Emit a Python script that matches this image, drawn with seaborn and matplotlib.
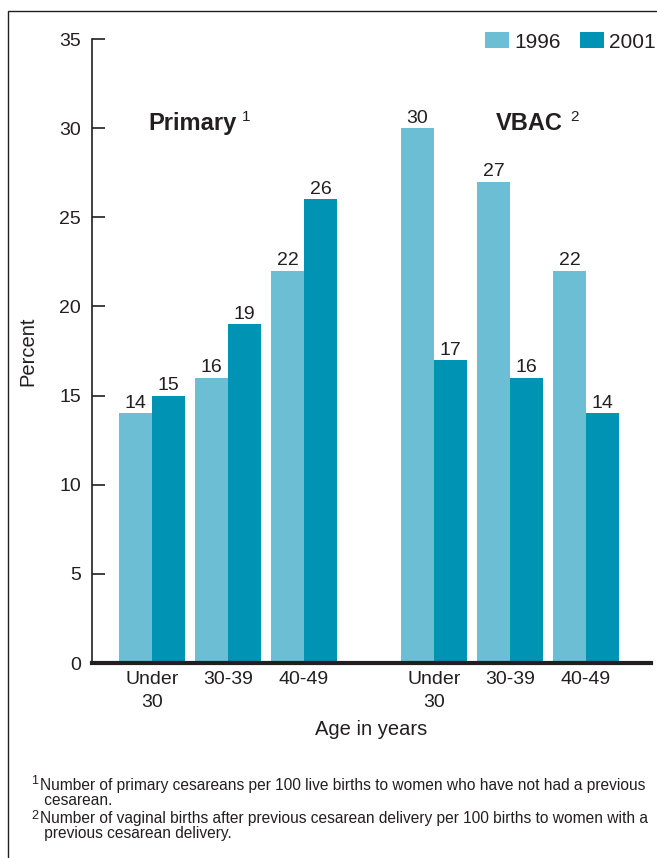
import pandas as pd
import seaborn as sns
import matplotlib.pyplot as plt
from matplotlib.patches import Rectangle

# values
age_groups = ["Under\n30", "30-39", "40-49", "Under\n30", "30-39", "40-49"]
group_pos = [0, 1, 2, 3.71, 4.71, 5.71]
years = ["1996", "2001"]
rate_1996 = [14, 16, 22, 30, 27, 22]
rate_2001 = [15, 19, 26, 17, 16, 14]

colors = {"1996": "#6bbed3", "2001": "#0093b3"}
txt = "#231f20"

df = pd.DataFrame({
    "pos": group_pos * 2,
    "year": ["1996"] * 6 + ["2001"] * 6,
    "value": rate_1996 + rate_2001,
})

sns.set_theme(style="white")
plt.rcParams["font.family"] = ["Liberation Sans", "DejaVu Sans"]
plt.rcParams["text.color"] = txt

fig = plt.figure(figsize=(6.57, 8.58), dpi=100)
ax = fig.add_axes([92 / 657, 1 - 663 / 858, (651 - 92) / 657, (663 - 39) / 858])

sns.barplot(data=df, x="pos", y="value", hue="year", hue_order=years,
            native_scale=True, width=0.868, palette=colors, saturation=1,
            linewidth=0, ax=ax)

for c in ax.containers:
    ax.bar_label(c, fmt="{:.0f}", padding=1, fontsize=14, color=txt)

ax.set_xlim(-0.789, 6.566)
ax.set_ylim(0, 35)
ax.set_yticks(range(0, 36, 5))
ax.set_xticks(group_pos)
ax.set_xticklabels(age_groups, fontsize=14, color=txt, linespacing=1.4)
ax.tick_params(axis="x", length=0, pad=6)
ax.tick_params(axis="y", direction="in", length=9, width=1.2, color=txt,
               labelsize=14, labelcolor=txt, left=True, pad=8)

sns.despine(ax=ax, top=True, right=True)
ax.spines["left"].set_color(txt)
ax.spines["left"].set_linewidth(1.2)
ax.spines["bottom"].set_color(txt)
ax.spines["bottom"].set_linewidth(3)

ax.set_xlabel("Age in years", fontsize=14.5, color=txt, labelpad=7)
ax.set_ylabel("Percent", fontsize=14.5, color=txt, labelpad=16)

ax.text(0.53, 30.25, "Primary", fontsize=17, fontweight="bold", ha="center",
        va="center", color=txt)
ax.text(1.18, 30.6, "1", fontsize=11, ha="left", va="center", color=txt)
ax.text(4.97, 30.25, "VBAC", fontsize=17, fontweight="bold", ha="center",
        va="center", color=txt)
ax.text(5.5, 30.6, "2", fontsize=11, ha="left", va="center", color=txt)

sns.move_legend(ax, "center left", bbox_to_anchor=(485 / 657, 1 - 42 / 858),
                bbox_transform=fig.transFigure, ncol=2, frameon=False,
                title=None, fontsize=15, handlelength=1.15, handleheight=0.77,
                handletextpad=0.24, columnspacing=0.95, borderpad=0,
                borderaxespad=0)

# footnotes
fig.text(31 / 657, 1 - 781 / 858, "1", fontsize=9, va="center", color=txt)
fig.text(40 / 657, 1 - 793 / 858,
         "Number of primary cesareans per 100 live births to women who have not had a previous\n cesarean.",
         fontsize=11.2, va="center", color=txt, linespacing=0.92)
fig.text(31 / 657, 1 - 816 / 858, "2", fontsize=9, va="center", color=txt)
fig.text(40 / 657, 1 - 826 / 858,
         "Number of vaginal births after previous cesarean delivery per 100 births to women with a\n previous cesarean delivery.",
         fontsize=11.2, va="center", color=txt, linespacing=0.92)

fig.patches.append(Rectangle((8 / 657, -0.1), 1.2, 1.1 - 11 / 858,
                             transform=fig.transFigure, fill=False,
                             edgecolor=txt, linewidth=1, zorder=0))

fig.savefig("out.png", dpi=100)
